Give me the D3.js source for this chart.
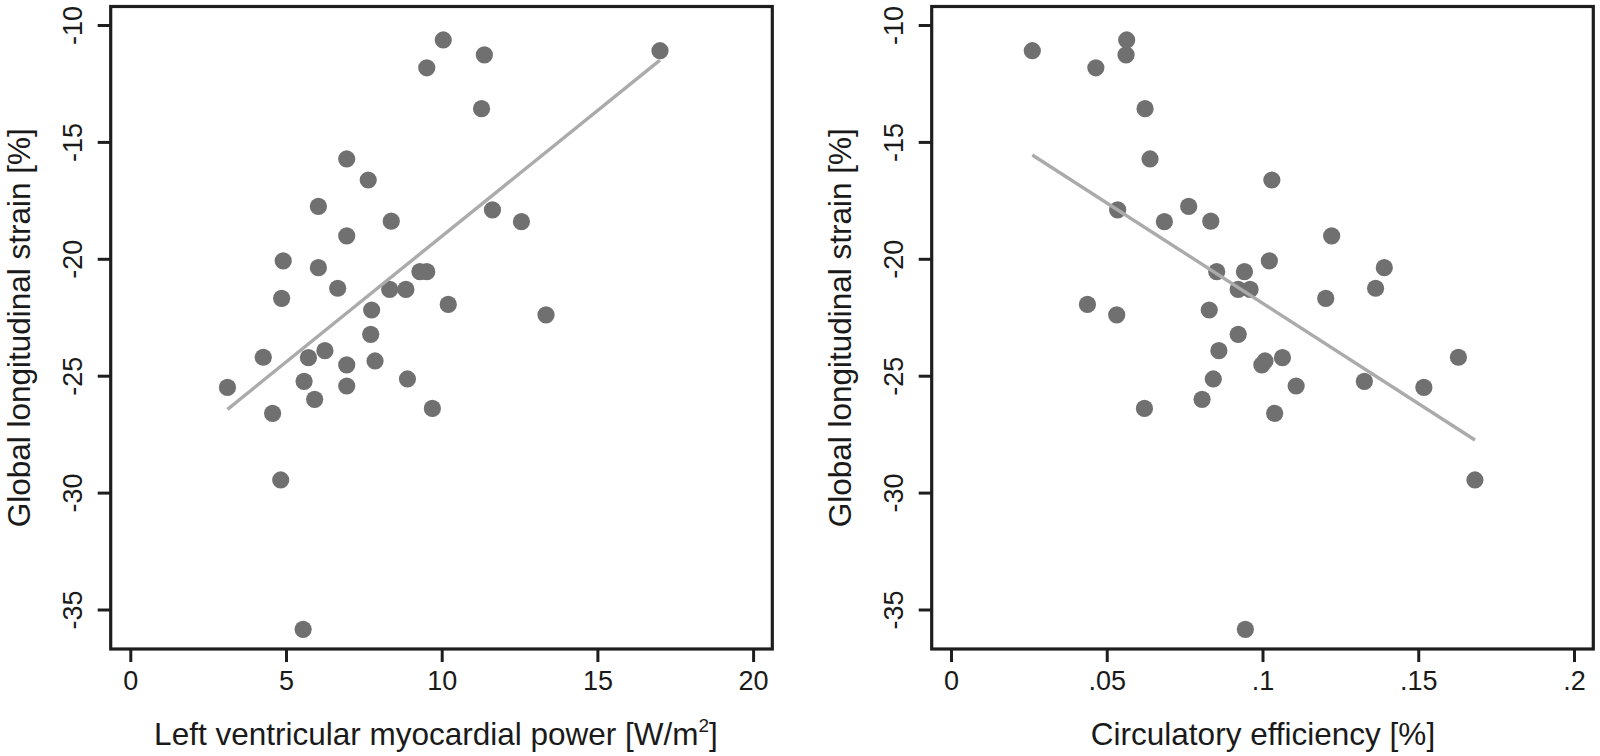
<!DOCTYPE html>
<html>
<head>
<meta charset="utf-8">
<script src="https://cdn.jsdelivr.net/npm/d3@7"></script>
<style>
  html, body { margin: 0; padding: 0; background: #ffffff; }
  svg { display: block; }
  text { font-family: "Liberation Sans", Arial, Helvetica, sans-serif; fill: #1a1a1a; }
</style>
</head>
<body>
<svg id="chart" width="1600" height="756"></svg>
<script>
// ---------- data ----------
const gls = [-11.10, -10.64, -11.28, -11.83, -13.58, -15.73, -16.63, -17.76, -17.91, -18.39,
             -18.41, -19.02, -20.09, -20.38, -20.55, -20.55, -21.26, -21.31, -21.31, -21.69,
             -21.95, -22.19, -22.40, -23.23, -23.93, -24.21, -24.23, -24.37, -24.54, -25.14,
             -25.24, -25.44, -25.50, -26.01, -26.40, -26.61, -29.46, -35.85];
const lvPower = [17.01, 10.05, 11.37, 9.52, 11.28, 6.95, 7.64, 6.04, 11.63, 8.38,
                 12.56, 6.95, 4.91, 6.04, 9.30, 9.52, 6.66, 8.33, 8.85, 4.86,
                 10.21, 7.75, 13.35, 7.72, 6.25, 4.27, 5.72, 7.86, 6.95, 8.90,
                 5.58, 6.95, 3.12, 5.92, 9.70, 4.57, 4.83, 5.55];
const circEff = [0.0261, 0.0564, 0.0562, 0.0465, 0.0623, 0.0639, 0.1030, 0.0763, 0.0535, 0.0834,
                 0.0685, 0.1222, 0.1022, 0.1391, 0.0853, 0.0942, 0.1363, 0.0922, 0.0960, 0.1203,
                 0.0438, 0.0829, 0.0532, 0.0922, 0.0860, 0.1629, 0.1064, 0.1008, 0.0998, 0.0842,
                 0.1327, 0.1108, 0.1518, 0.0806, 0.0621, 0.1039, 0.1682, 0.0945];
// fitted lines, endpoints
const fitLeftX = [3.12, 17.01];
const fitLeftY = [-26.44, -11.50];
const fitRightX = [0.0261, 0.1682];
const fitRightY = [-15.56, -27.75];
// ticks
const yTicks = [-10, -15, -20, -25, -30, -35];
const yTickLabels = ["-10", "-15", "-20", "-25", "-30", "-35"];
const xTicksLeft = [0, 5, 10, 15, 20];
const xTickLabelsLeft = ["0", "5", "10", "15", "20"];
const xTicksRight = [0, 0.05, 0.1, 0.15, 0.2];
const xTickLabelsRight = ["0", ".05", ".1", ".15", ".2"];
const yTitle = "Global longitudinal strain [%]";
const xTitleLeft = "Left ventricular myocardial power [W/m";
const xTitleRight = "Circulatory efficiency [%]";

// ---------- drawing ----------
const svg = d3.select("#chart");
const frameColor = "#1e1e1e";
const dotColor = "#707070";
const lineColor = "#ababab";

const yScale = d3.scaleLinear().domain([-10, -35]).range([25, 609.5]);
const yTop = 6.5, yBottom = 649;

function panel(opts) {
  const g = svg.append("g");
  const x = opts.x;
  const left = opts.frameLeft, right = opts.frameRight;

  // points
  g.selectAll("circle.pt").data(opts.xs.map((v, i) => [v, gls[i]]))
    .enter().append("circle")
    .attr("class", "pt")
    .attr("cx", d => x(d[0])).attr("cy", d => yScale(d[1]))
    .attr("r", 8.6).attr("fill", dotColor);

  // fit line
  const line = d3.line().x(d => x(d[0])).y(d => yScale(d[1]));
  g.append("path").datum(opts.fitX.map((v, i) => [v, opts.fitY[i]]))
    .attr("d", line).attr("fill", "none")
    .attr("stroke", lineColor).attr("stroke-width", 3.4);

  // frame
  g.append("rect").attr("x", left).attr("y", yTop)
    .attr("width", right - left).attr("height", yBottom - yTop)
    .attr("fill", "none").attr("stroke", frameColor).attr("stroke-width", 3.2);

  // x axis
  const xAxis = d3.axisBottom(x).tickValues(opts.xTicks)
    .tickSize(13).tickPadding(9)
    .tickFormat((d, i) => opts.xLabels[i]);
  const gx = g.append("g").attr("transform", `translate(0,${yBottom})`).call(xAxis);
  gx.select(".domain").remove();
  gx.selectAll(".tick line").attr("stroke", frameColor).attr("stroke-width", 3);
  gx.selectAll(".tick text").attr("font-size", 27).attr("fill", "#1a1a1a")
    .attr("font-family", "Liberation Sans, Arial, sans-serif");

  // y axis
  const yAxis = d3.axisLeft(yScale).tickValues(yTicks).tickSize(13)
    .tickFormat((d, i) => yTickLabels[i]);
  const gy = g.append("g").attr("transform", `translate(${left},0)`).call(yAxis);
  gy.select(".domain").remove();
  gy.selectAll(".tick line").attr("stroke", frameColor).attr("stroke-width", 3);
  gy.selectAll(".tick text")
    .attr("font-size", 27).attr("fill", "#1a1a1a")
    .attr("font-family", "Liberation Sans, Arial, sans-serif")
    .attr("x", null).attr("dy", null)
    .attr("text-anchor", "middle")
    .attr("transform", "translate(-29,0) rotate(-90)");

  // y title
  g.append("text")
    .attr("transform", `translate(${left - 81},${(yTop + yBottom) / 2}) rotate(-90)`)
    .attr("text-anchor", "middle").attr("font-size", 31.5)
    .text(yTitle);

  // x title
  const t = g.append("text")
    .attr("x", opts.titleX).attr("y", 745)
    .attr("text-anchor", "middle").attr("font-size", 31.5);
  t.append("tspan").text(opts.xTitle);
  if (opts.sup) {
    t.append("tspan").attr("font-size", 19).attr("dy", -13).text("2");
    t.append("tspan").attr("dy", 13).text("]");
  }
}

const xLeft = d3.scaleLinear().domain([0, 20]).range([130.3, 753.1]);
const xRight = d3.scaleLinear().domain([0, 0.2]).range([951, 1574]);

panel({
  x: xLeft, frameLeft: 110.7, frameRight: 772.3,
  xs: lvPower, fitX: fitLeftX, fitY: fitLeftY,
  xTicks: xTicksLeft, xLabels: xTickLabelsLeft,
  xTitle: xTitleLeft, sup: true, titleX: 436
});
panel({
  x: xRight, frameLeft: 931.7, frameRight: 1593.3,
  xs: circEff, fitX: fitRightX, fitY: fitRightY,
  xTicks: xTicksRight, xLabels: xTickLabelsRight,
  xTitle: xTitleRight, sup: false, titleX: 1263
});
</script>
</body>
</html>
